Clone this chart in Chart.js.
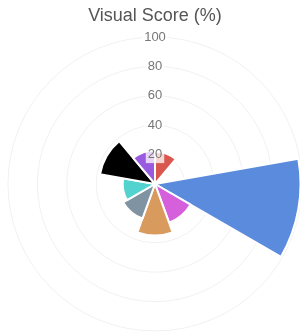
<!DOCTYPE html>
<html>
<head>
<meta charset="utf-8">
<script src="https://cdn.jsdelivr.net/npm/chart.js@4/dist/chart.umd.min.js"></script>
<style>
  html, body { margin: 0; padding: 0; background: #fff; overflow: hidden; }
  .wrap { position: relative; width: 312px; height: 340px; margin-left: -1px; }
</style>
</head>
<body>
<div class="wrap"><canvas id="chartScore"></canvas></div>
<script>
// ─── Datos ─────────────────────────────────────────────
const categories = ['A', 'B', 'C', 'D', 'E', 'F', 'G', 'H', 'I'];
const scores = [22, 0, 99, 28, 35, 25, 22, 38, 23];
const colors = ['#d9574e', '#9bbf5a', '#5b8bdc', '#d65fdc', '#d99a5e', '#7f93a3', '#52d3cf', '#000000', '#9a5ae0'];
const tickValues = [20, 40, 60, 80, 100];

// ─── Gráfico ──────────────────────────────────────────
Chart.defaults.font.family = "'Liberation Sans', Arial, sans-serif";
Chart.defaults.color = '#666';

new Chart(document.getElementById('chartScore'), {
  type: 'polarArea',
  data: {
    labels: categories,
    datasets: [{
      label: 'Visual Score (%)',
      data: scores,
      backgroundColor: colors,
      borderColor: '#fff',
      borderWidth: 2,
    }],
  },
  options: {
    responsive: true,
    maintainAspectRatio: false,
    animation: false,
    plugins: {
      legend: { display: false },
      title: {
        display: true,
        text: 'Visual Score (%)',
        color: '#555',
        font: { size: 18, weight: 'normal' },
        padding: { top: 5, bottom: 2 },
      },
    },
    scales: {
      r: {
        min: 0,
        max: 100,
        afterBuildTicks: (s) => { s.ticks = [0, ...tickValues].map((v) => ({ value: v })); },
        ticks: { font: { size: 13 }, color: '#777', z: 1 },
        grid: { color: 'rgba(0,0,0,0.06)' },
      },
    },
  },
});
</script>
</body>
</html>
